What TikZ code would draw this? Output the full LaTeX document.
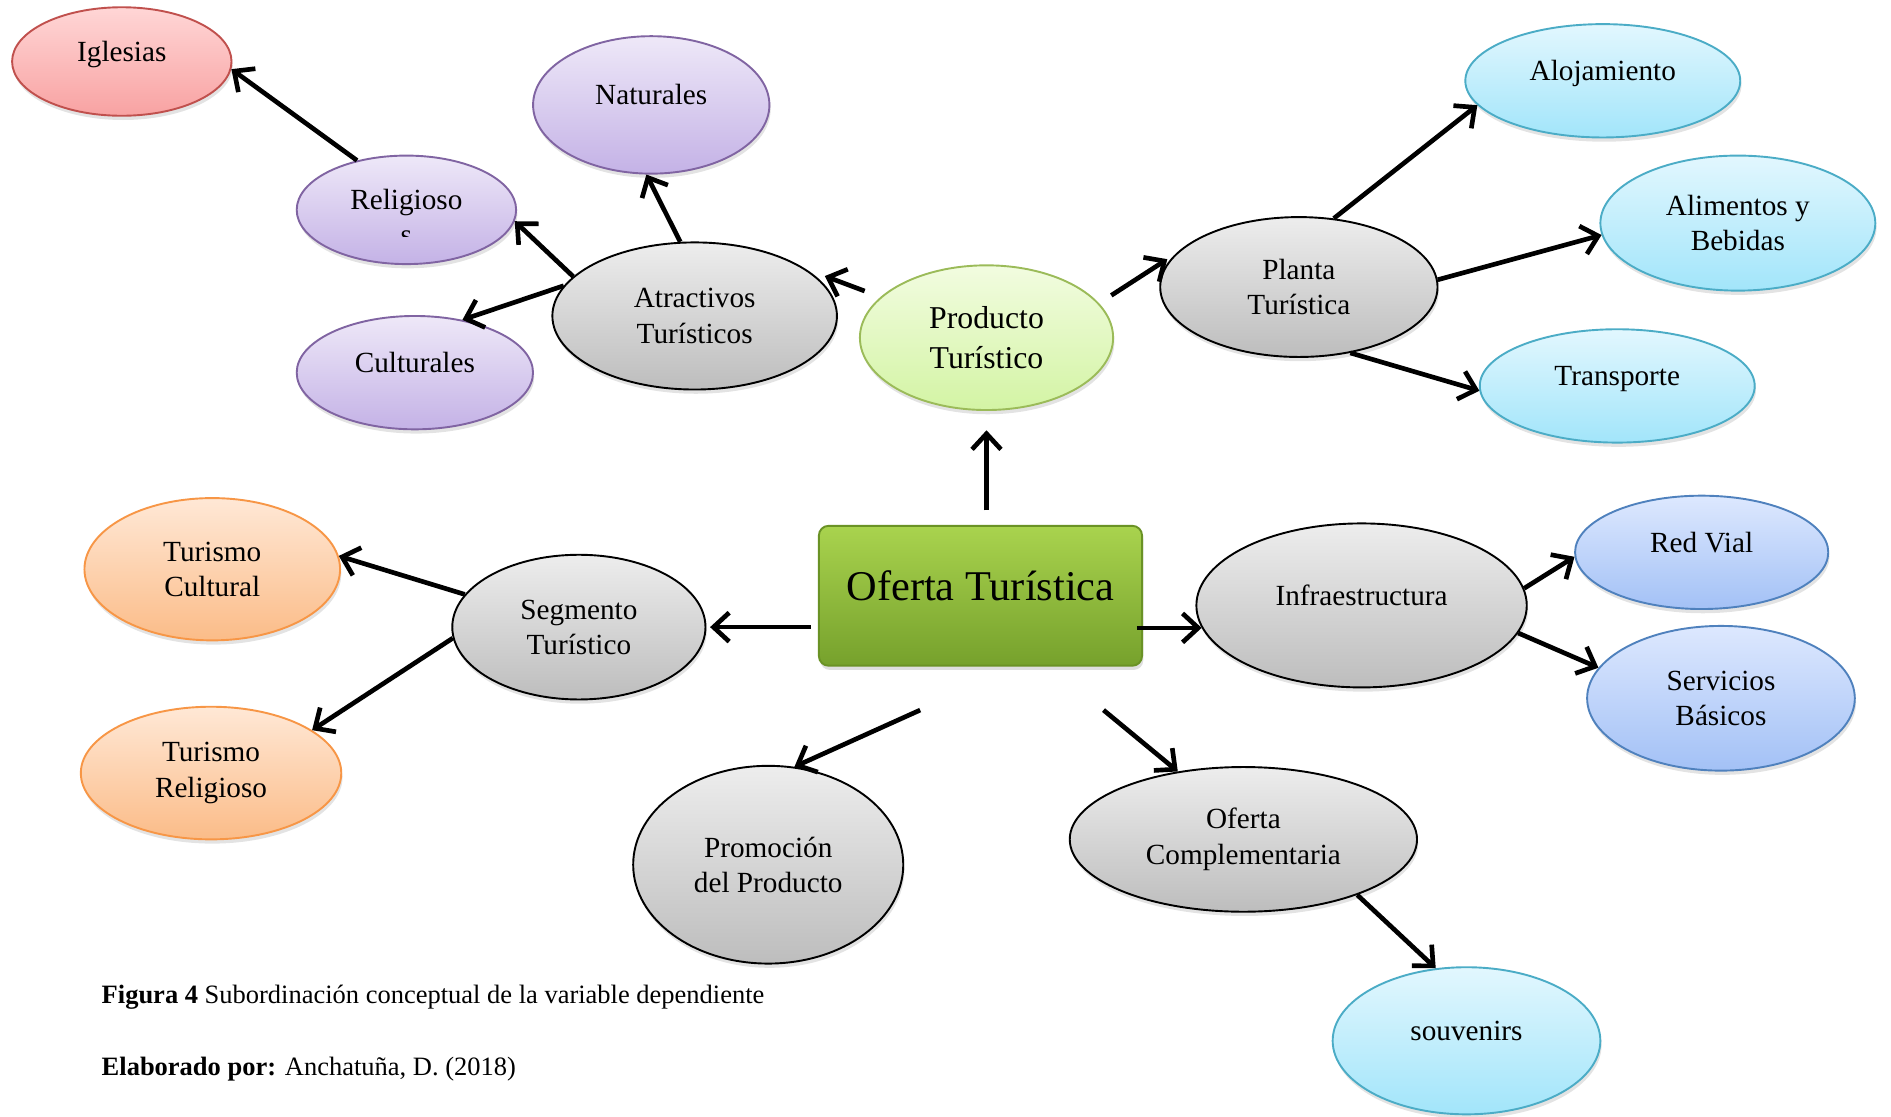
\documentclass[tikz,border=0pt]{standalone}
\usepackage{fontspec}
\setmainfont{Liberation Serif}
\usetikzlibrary{shapes.geometric,arrows.meta,shadows,calc}

\definecolor{grisA}{HTML}{EDEDED}
\definecolor{grisB}{HTML}{BDBDBD}
\definecolor{liaA}{HTML}{EEE8F8}
\definecolor{liaB}{HTML}{C4B2E6}
\definecolor{liaD}{HTML}{8064A2}
\definecolor{rojA}{HTML}{FFD6D6}
\definecolor{rojB}{HTML}{F8A2A2}
\definecolor{rojD}{HTML}{C0504D}
\definecolor{celA}{HTML}{E2F7FE}
\definecolor{celB}{HTML}{A2E5FA}
\definecolor{celD}{HTML}{4BACC6}
\definecolor{verA}{HTML}{F2FCE0}
\definecolor{verB}{HTML}{D3F4A4}
\definecolor{verD}{HTML}{9BBB59}
\definecolor{narA}{HTML}{FFE8D6}
\definecolor{narB}{HTML}{FBBC88}
\definecolor{narD}{HTML}{F79646}
\definecolor{azuA}{HTML}{DDE8FE}
\definecolor{azuB}{HTML}{A3C1F6}
\definecolor{azuD}{HTML}{4F81BD}
\definecolor{cajaA}{HTML}{A9D34E}
\definecolor{cajaB}{HTML}{76A12C}
\definecolor{cajaD}{HTML}{6A9225}

\tikzset{
  elip/.style={ellipse, line width=0.9pt, inner sep=0pt, align=center,
    font=\fontsize{13.8}{16.6}\selectfont,
    drop shadow={shadow xshift=0.6pt, shadow yshift=-2pt, opacity=0.22}},
  gris/.style={elip, draw=black, top color=grisA, bottom color=grisB},
  lila/.style={elip, draw=liaD, top color=liaA, bottom color=liaB},
  rojo/.style={elip, draw=rojD, top color=rojA, bottom color=rojB},
  celeste/.style={elip, draw=celD, top color=celA, bottom color=celB},
  verde/.style={elip, draw=verD, top color=verA, bottom color=verB},
  naranja/.style={elip, draw=narD, top color=narA, bottom color=narB},
  azul/.style={elip, draw=azuD, top color=azuA, bottom color=azuB},
  uno/.style={text height=0.33cm, text depth=0.33cm},
  pie/.style={anchor=base west, inner sep=0pt, font=\fontsize{12.5}{15}\selectfont},
  flecha/.style={line width=2.2pt, -{Straight Barb[length=2.6mm,width=4.8mm]}},
}

\begin{document}
\begin{tikzpicture}[x=0.02cm, y=-0.02cm]
\useasboundingbox (0,0) rectangle (1568,926);
		\node[rojo, uno, minimum width=3.64cm, minimum height=1.8cm] (igl) at (101,51) {Iglesias};
		\node[lila, uno, minimum width=3.92cm, minimum height=2.28cm] (nat) at (540,87) {Naturales};
		\node[lila, uno, minimum width=3.64cm, minimum height=1.8cm] (rel) at (337,174) {Religioso};
		\node[lila, uno, minimum width=3.92cm, minimum height=1.88cm] (cul) at (344,309) {Culturales};
		\node[gris, minimum width=4.72cm, minimum height=2.44cm] (atr) at (576,262) {Atractivos\\Turísticos};
		\node[verde, minimum width=4.2cm, minimum height=2.4cm, font=\fontsize{15}{18.6}\selectfont] (pro) at (818,280) {Producto\\Turístico};
		\node[gris, minimum width=4.6cm, minimum height=2.32cm] (pla) at (1077,238) {Planta\\Turística};
		\node[celeste, uno, minimum width=4.56cm, minimum height=1.88cm] (alo) at (1329,67) {Alojamiento};
		\node[celeste, minimum width=4.56cm, minimum height=2.24cm] (ali) at (1441,185) {Alimentos y\\Bebidas};
		\node[celeste, uno, minimum width=4.56cm, minimum height=1.88cm] (tra) at (1341,320) {Transporte};
		\node[rectangle, rounded corners=0.16cm, draw=cajaD, line width=0.9pt, top color=cajaA, bottom color=cajaB,
		  minimum width=5.36cm, minimum height=2.32cm, text height=0.48cm, text depth=0.32cm,
		  font=\fontsize{20}{24}\selectfont,
		  drop shadow={shadow xshift=0.6pt, shadow yshift=-2pt, opacity=0.25}] (ofe) at (813,494) {Oferta Turística};
		\node[naranja, minimum width=4.24cm, minimum height=2.36cm] (tcu) at (176,472) {Turismo\\Cultural};
		\node[gris, minimum width=4.2cm, minimum height=2.4cm] (seg) at (480,520) {Segmento\\Turístico};
		\node[naranja, minimum width=4.32cm, minimum height=2.2cm] (tre) at (175,641) {Turismo\\Religioso};
		\node[gris, uno, minimum width=5.48cm, minimum height=2.72cm] (inf) at (1129,502) {Infraestructura};
		\node[azul, uno, minimum width=4.2cm, minimum height=1.88cm] (red) at (1411,458) {Red Vial};
		\node[azul, minimum width=4.44cm, minimum height=2.4cm] (ser) at (1427,579) {Servicios\\Básicos};
		\node[gris, minimum width=4.48cm, minimum height=3.28cm] (prm) at (637,717) {Promoción\\del Producto};
		\node[gris, minimum width=5.76cm, minimum height=2.4cm] (ofc) at (1031,696) {Oferta\\Complementaria};
		\node[celeste, uno, minimum width=4.44cm, minimum height=2.44cm] (sou) at (1216,863) {souvenirs};
		\begin{scope}
		\clip (317,190) rectangle (357,196);
		\node[font=\fontsize{13.8}{16.6}\selectfont, anchor=base] (rels) at (337,203) {s};
		\end{scope}
		\draw[flecha] (rel.135) -- (igl.-4);
		\draw[flecha] (atr.162) -- (rel.-6);
		\draw[flecha] (atr.167) -- (cul.48);
		\draw[flecha] (atr.101) -- (nat.-94);
		\draw[flecha, shorten <=0.28cm, shorten >=0.34cm] (pro.159) -- (atr.23);
		\draw[flecha, shorten <=0.24cm, shorten >=0.32cm] (pro.south |- ofe.north) -- (pro.south);
		\draw[flecha, shorten <=0.24cm, shorten >=0.16cm] (pro.17) -- (pla.165);
		\draw[flecha] (pla.63) -- (alo.191);
		\draw[flecha] (pla.3) -- (ali.185);
		\draw[flecha] (pla.-52) -- (tra.182);
		\draw[flecha, shorten <=0.12cm, shorten >=0.06cm] (ofe.west |- seg.east) -- (seg.east);
		\draw[flecha] (seg.164) -- (tcu.6);
		\draw[flecha] (seg.185) -- (tre.23);
		\draw[flecha, shorten <=-0.1cm] (ofe.east |- inf.188) -- (inf.188);
		\draw[flecha] (inf.6) -- (red.182);
		\draw[flecha] (inf.-10) -- (ser.166);
		\draw[flecha] ($(ofe.south)+(-50,36)$) -- (prm.75);
		\draw[flecha] ($(ofe.south)+(102,36)$) -- (ofc.134);
		\draw[flecha] (ofc.-26) -- (sou.113);
		\node[pie] (fig) at (84,832) {\textbf{Figura 4} Subordinación conceptual de la variable dependiente};
		\node[pie] (ela) at (84,892) {\textbf{Elaborado por:} Anchatuña, D. (2018)};
\end{tikzpicture}
\end{document}
